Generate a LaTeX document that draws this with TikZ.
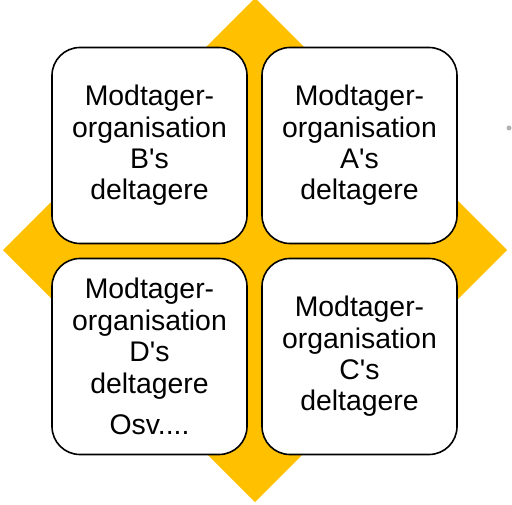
\documentclass[tikz,border=0pt]{standalone}
\usepackage{fontspec}
\setmainfont{Liberation Sans}
\definecolor{gold}{HTML}{FFC000}
\begin{document}
\begin{tikzpicture}[x=1bp,y=-1bp,
  card/.style={draw=black, line width=1.6bp, fill=white, rounded corners=28bp,
    minimum width=195bp, minimum height=196bp, inner sep=0pt, align=center,
    font=\fontsize{28.5}{31.5}\selectfont}]
\useasboundingbox (0,0) rectangle (512,505);
\clip (0,0) rectangle (512,505);
\fill[gold] (255,-2) -- (507,250) -- (255,502) -- (3,250) -- cycle;
\fill[gray!60] (509,128) circle (2.5);
\node[card] (b) at (149.5,145.5) {Modtager-\\organisation\\B\textquotesingle s\\deltagere};
\node[card] (a) at (359.5,145.5) {Modtager-\\organisation\\A\textquotesingle s\\deltagere};
\node[card] (d) at (149.5,356.5) {Modtager-\\organisation\\D\textquotesingle s\\deltagere\\[10bp]Osv....};
\node[card] (c) at (359.5,356.5) {Modtager-\\organisation\\C\textquotesingle s\\deltagere};
\end{tikzpicture}
\end{document}
